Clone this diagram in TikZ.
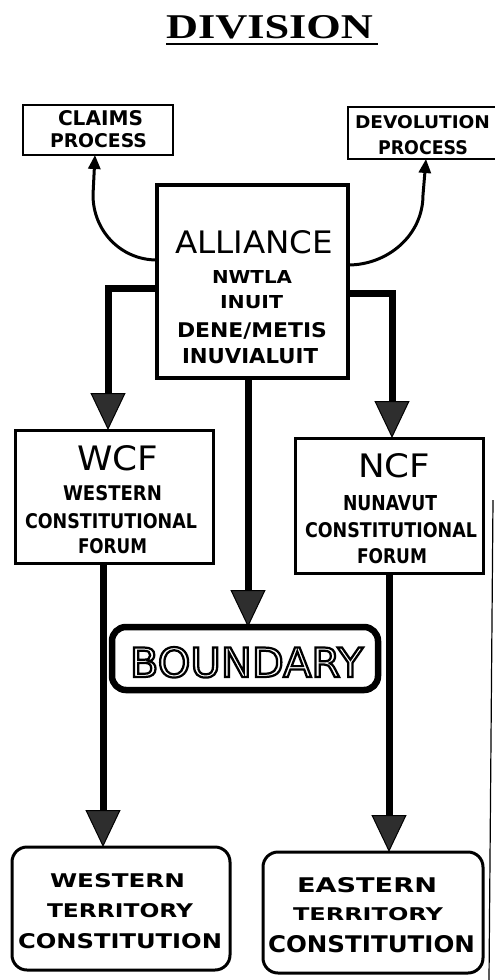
\documentclass[tikz,border=0pt]{standalone}
\usepackage{fontspec}
\setmainfont{DejaVu Sans}
\newfontfamily\titlefont{Liberation Serif}
\usepackage{graphicx}
\usetikzlibrary{arrows.meta}
\newcommand{\fitt}[3]{\resizebox{#1pt}{#2pt}{#3}}
\newcommand{\outlinetext}[1]{\special{pdf:literal direct 1 Tr 0.55 w}#1\special{pdf:literal direct 0 Tr}}
\begin{document}
\begin{tikzpicture}[x=1pt,y=-1pt,
  box/.style={draw, line width=3pt, inner sep=0pt, outer sep=0pt},
  rbox/.style={box, rounded corners=15pt},
  txt/.style={inner sep=0pt, outer sep=0pt, anchor=base west},
  bigtip/.style={-{Triangle[width=35pt,length=37pt,line width=1pt,fill=black!82]}, line width=7pt},
  curvearrow/.style={-{Triangle[width=12pt,length=14pt]}, line width=3pt}
]
\useasboundingbox (0,0) rectangle (495,980);

% title
\node[txt] (tDiv) at (166,38) {\fitt{207}{23}{\titlefont\bfseries DIVISION}};
\draw[line width=2pt] ([yshift=-5pt]tDiv.south west) -- ([xshift=5pt,yshift=-5pt]tDiv.south east);

% boxes
\node[box, line width=2.5pt, minimum width=150pt, minimum height=50pt] (claims) at (98,130) {};
\node[box, line width=2.5pt, minimum width=149pt, minimum height=52pt] (devol) at (422.5,133) {};
\node[box, line width=3.5pt, minimum width=191pt, minimum height=193pt] (alliance) at (252.5,281.5) {};
\node[box, minimum width=198pt, minimum height=133pt] (wcf) at (114,496.5) {};
\node[box, minimum width=188pt, minimum height=135pt] (ncf) at (389,505.5) {};
\node[box, line width=6.5pt, rounded corners=14pt, minimum width=266pt, minimum height=63pt] (boundary) at (245,658.5) {};
\node[rbox, minimum width=218pt, minimum height=123pt] (western) at (121,908.5) {};
\node[rbox, minimum width=220pt, minimum height=121pt] (eastern) at (373,912.5) {};

% texts
\node[txt] (tClaims) at (58,125) {\fitt{85}{15}{\bfseries CLAIMS}};
\node[txt] (tProcA) at (50,147) {\fitt{97}{14}{\bfseries PROCESS}};
\node[txt] (tDevol) at (355,128) {\fitt{135}{13}{\bfseries DEVOLUTION}};
\node[txt] (tProcB) at (378,154) {\fitt{90}{14}{\bfseries PROCESS}};

\node[txt] (tAll) at (175,253) {\fitt{158}{23}{ALLIANCE}};
\node[txt] (tNwt) at (212,283) {\fitt{80}{13}{\bfseries NWTLA}};
\node[txt] (tInu) at (220,308) {\fitt{63}{13}{\bfseries INUIT}};
\node[txt] (tDen) at (177,337) {\fitt{150}{15}{\bfseries DENE/METIS}};
\node[txt] (tInv) at (182,363) {\fitt{136}{15}{\bfseries INUVIALUIT}};

\node[txt] (tWcf) at (77,470) {\fitt{81}{25}{WCF}};
\node[txt] (tWes) at (63,500) {\fitt{99}{15}{\bfseries WESTERN}};
\node[txt] (tConW) at (25,528) {\fitt{172}{15}{\bfseries CONSTITUTIONAL}};
\node[txt] (tForW) at (78,553) {\fitt{69}{15}{\bfseries FORUM}};

\node[txt] (tNcf) at (358,477) {\fitt{72}{24}{NCF}};
\node[txt] (tNun) at (343,510) {\fitt{94}{15}{\bfseries NUNAVUT}};
\node[txt] (tConN) at (305,537) {\fitt{172}{15}{\bfseries CONSTITUTIONAL}};
\node[txt] (tForN) at (357,563) {\fitt{70}{15}{\bfseries FORUM}};

\node[txt] (tBound) at (130,677) {\fitt{233}{30}{\outlinetext{BOUNDARY}}};

\node[txt] (tWest) at (50,887) {\fitt{135}{14}{\bfseries WESTERN}};
\node[txt] (tTerW) at (47,917) {\fitt{146}{14}{\bfseries TERRITORY}};
\node[txt] (tConsW) at (18,948) {\fitt{204}{15}{\bfseries CONSTITUTION}};

\node[txt] (tEast) at (297,892) {\fitt{140}{15}{\bfseries EASTERN}};
\node[txt] (tTerE) at (293,920) {\fitt{150}{13}{\bfseries TERRITORY}};
\node[txt] (tConsE) at (268,952) {\fitt{207}{17}{\bfseries CONSTITUTION}};

% curved arrows
\coordinate (cbendL) at (93,195);
\coordinate (cbendR) at (423,195);
\draw[curvearrow] ([yshift=21.5pt]alliance.west) .. controls +(-36,0) and +(0,36) .. (cbendL) -- ([xshift=-3pt]claims.south);
\draw[curvearrow] ([yshift=16.5pt]alliance.east) .. controls +(40,0) and +(0,40) .. (cbendR) -- ([xshift=3.5pt]devol.south);

% thick connectors
\draw[bigtip] ([yshift=-6.5pt]alliance.west) -| ([xshift=-6pt]wcf.north);
\draw[bigtip] ([yshift=-11.5pt]alliance.east) -| ([xshift=3pt]ncf.north);
\coordinate (cdown) at ([xshift=-4.5pt]alliance.south);
\draw[bigtip] (cdown) -- (cdown |- boundary.north);
\coordinate (wdown) at ([xshift=-11pt]wcf.south);
\draw[bigtip] (wdown) -- (wdown |- western.north);
\draw[bigtip] (ncf.south) -- (ncf.south |- eastern.north);

% right page edge line
\coordinate (edgeTop) at (493,500);
\coordinate (edgeBot) at (489,980);
\draw[line width=1.2pt] (edgeTop) -- (edgeBot);
\end{tikzpicture}
\end{document}
